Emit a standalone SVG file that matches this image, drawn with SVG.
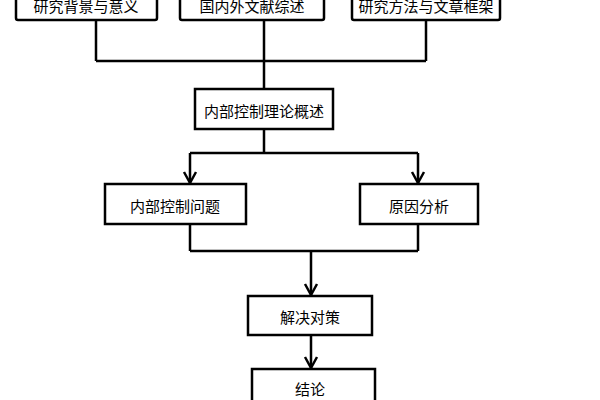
<svg xmlns="http://www.w3.org/2000/svg" width="600" height="400" viewBox="0 0 600 400">
<style>
.b{fill:#fff;stroke:#000;stroke-width:2.5}
.t{font-family:"Noto Sans CJK SC",sans-serif;font-size:15px;text-anchor:middle;dominant-baseline:central;fill:#000}
.c{fill:none;stroke:#000;stroke-width:2.5}
</style>
<defs><path id="ah" d="M-6,-11 L0,0 L6,-11" fill="none" stroke="#000" stroke-width="2.5"/></defs>
<rect width="600" height="400" fill="#fff"/>
<g id="connectors">
<path class="c" d="M96,20V61M264,20V61M426,20V61M96,61H426M264,61V89"/>
<path class="c" d="M264,129V153M190,153H418"/>
<path class="c" d="M190,153V183M418,153V183"/>
<path class="c" d="M190,224V251M418,224V251M190,251H418"/>
<path class="c" d="M311,251V295M311,335V368"/>
<use href="#ah" x="190" y="183"/>
<use href="#ah" x="418" y="183"/>
<use href="#ah" x="311" y="295"/>
<use href="#ah" x="311" y="368"/>
</g>
<g id="n1"><rect class="b" x="16" y="-20" width="141" height="40" rx="2"/><text class="t" x="86" y="5">研究背景与意义</text></g>
<g id="n2"><rect class="b" x="180" y="-20" width="144" height="40" rx="2"/><text class="t" x="252" y="5">国内外文献综述</text></g>
<g id="n3"><rect class="b" x="352" y="-20" width="148" height="40" rx="2"/><text class="t" x="426" y="5">研究方法与文章框架</text></g>
<g id="n4"><rect class="b" x="195" y="89" width="138" height="40"/><text class="t" x="264" y="110">内部控制理论概述</text></g>
<g id="n5"><rect class="b" x="105" y="184" width="141" height="40"/><text class="t" x="175" y="205">内部控制问题</text></g>
<g id="n6"><rect class="b" x="360" y="184" width="118" height="40"/><text class="t" x="419" y="205">原因分析</text></g>
<g id="n7"><rect class="b" x="248" y="296" width="124" height="39"/><text class="t" x="310" y="316">解决对策</text></g>
<g id="n8"><rect class="b" x="252" y="369" width="123" height="45"/><text class="t" x="310" y="388">结论</text></g>
</svg>
